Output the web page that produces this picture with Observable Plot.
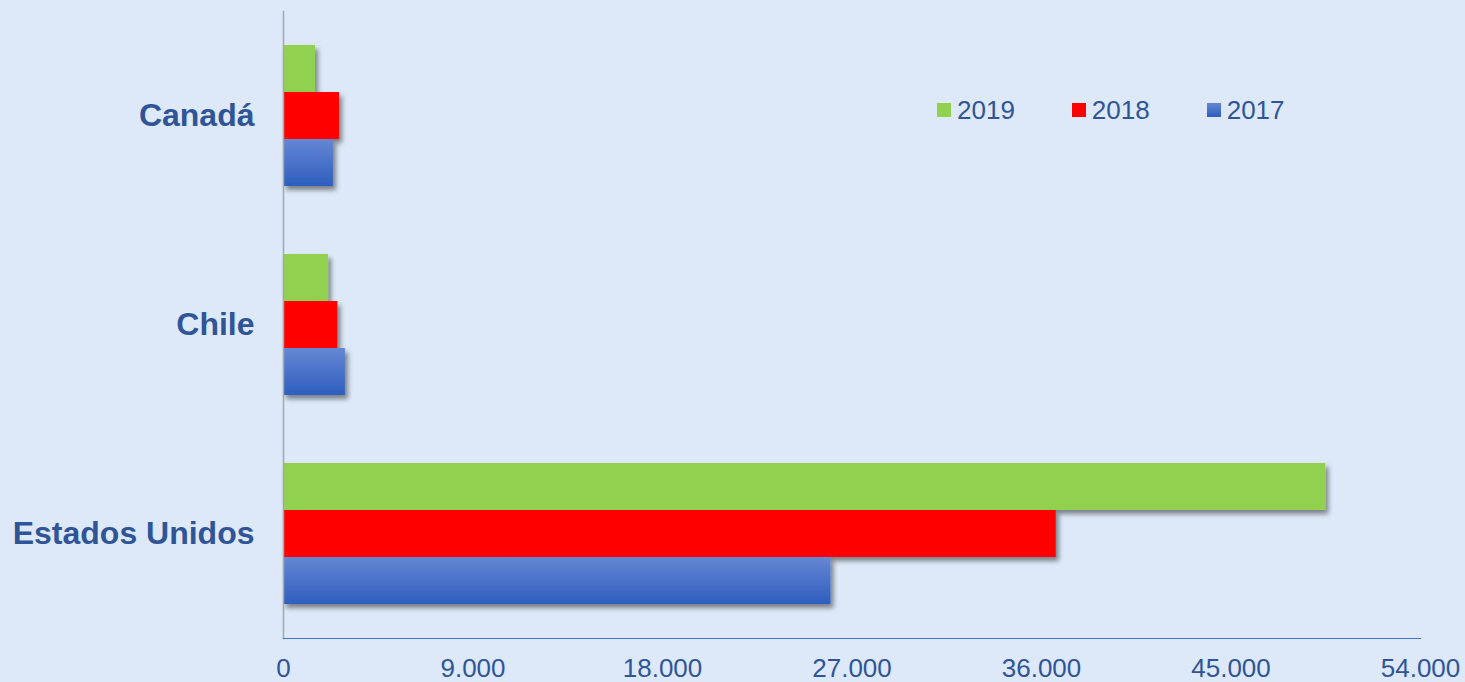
<!DOCTYPE html>
<html>
<head>
<meta charset="utf-8">
<script src="https://cdn.jsdelivr.net/npm/d3@7"></script>
<script src="https://cdn.jsdelivr.net/npm/@observablehq/plot@0.6"></script>
<style>
  html, body { margin: 0; padding: 0; background: #DDE9F8; overflow: hidden; }
  #wrap { position: relative; width: 1465px; height: 682px; }
  #legend { position: absolute; top: 97px; left: 937px; display: flex; align-items: center;
    font-family: "Liberation Sans", Arial, sans-serif; font-size: 26px; line-height: 26px; color: #2F5597; }
  .item { display: flex; align-items: center; margin-right: 57px; }
  .sw { width: 14px; height: 14px; margin-right: 6px; }
</style>
</head>
<body>
<div id="wrap"></div>
<script>
const countries = ["Canadá", "Chile", "Estados Unidos"];
const years = ["2019", "2018", "2017"];
const v2019 = [1520, 2140, 49500];
const v2018 = [2660, 2580, 36700];
const v2017 = [2370, 2940, 26000];
const xTicks = [0, 9000, 18000, 27000, 36000, 45000, 54000];
const colors = ["#92D050", "#FF0000", "url(#blueGrad)"];
const legendColors = ["#92D050", "#FF0000", "linear-gradient(#6487D3, #2F5EBF)"];

const series = {"2019": v2019, "2018": v2018, "2017": v2017};
const data = countries.flatMap((c, i) => years.map(y => ({country: c, year: y, value: series[y][i]})));

const fmt = d3.formatLocale({decimal: ",", thousands: ".", grouping: [3], currency: ["", ""]}).format(",");

const chart = Plot.plot({
  width: 1465, height: 682,
  marginLeft: 283, marginRight: 45, marginTop: 44, marginBottom: 78,
  style: {background: "#DDE9F8", color: "#2F5597", fontFamily: "'Liberation Sans', Arial, sans-serif", overflow: "visible"},
  x: {domain: [0, 54000]},
  y: {domain: years, padding: 0, axis: null},
  fy: {domain: countries, paddingInner: 0.327, paddingOuter: 0, label: null},
  color: {domain: years, range: colors},
  marks: [
    Plot.barX(data, {x: "value", y: "year", fy: "country", fill: "year"}),
    Plot.frame({anchor: "left", facet: "super", stroke: "#A6A6A6", strokeWidth: 1.5, insetTop: -34, insetBottom: -34}),
    Plot.frame({anchor: "bottom", facet: "super", stroke: "#4472C4", strokeWidth: 1.2, dy: 34}),
    Plot.axisX({ticks: xTicks, tickFormat: fmt, tickSize: 0, tickPadding: 54, fontSize: 26, label: null}),
    Plot.axisFy({anchor: "left", tickSize: 0, tickPadding: 29, fontSize: 32, fontWeight: "bold", label: null})
  ]
});

const svg = d3.select(chart);
svg.insert("defs", ":first-child").html(`
  <linearGradient id="blueGrad" x1="0" y1="0" x2="0" y2="1">
    <stop offset="0" stop-color="#6487D3"/>
    <stop offset="1" stop-color="#2F5EBF"/>
  </linearGradient>
  <filter id="shadow" x="-0.1" y="-0.2" width="1.5" height="1.6">
    <feDropShadow dx="3" dy="4" stdDeviation="2.5" flood-color="#000" flood-opacity="0.45"/>
  </filter>`);
svg.selectAll("g[aria-label='bar'] rect").attr("filter", "url(#shadow)");

const wrap = document.getElementById("wrap");
wrap.appendChild(chart);
const legend = document.createElement("div");
legend.id = "legend";
years.forEach((y, i) => {
  const it = document.createElement("div");
  it.className = "item";
  const sw = document.createElement("div");
  sw.className = "sw";
  sw.style.background = legendColors[i];
  const t = document.createElement("span");
  t.textContent = y;
  it.appendChild(sw); it.appendChild(t);
  legend.appendChild(it);
});
wrap.appendChild(legend);
</script>
</body>
</html>
